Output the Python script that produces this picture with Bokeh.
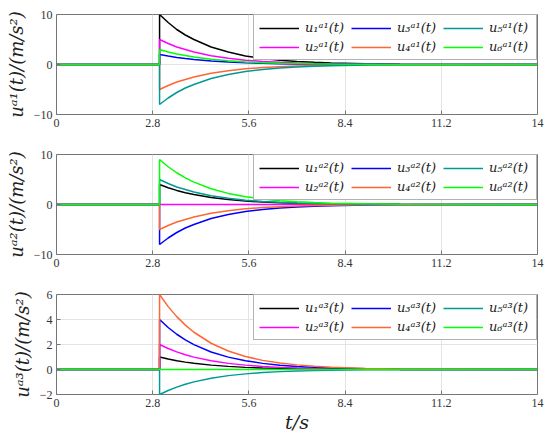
from bokeh.plotting import figure
from bokeh.models import Range1d, FixedTicker, Legend, LegendItem
from bokeh.layouts import column
from bokeh.embed import file_html
from bokeh.resources import INLINE

# sample times (s)
t = [0, 3, 3, 3.25, 3.5, 3.75, 4, 4.5, 5, 5.5, 6, 6.5, 7, 7.5, 8, 9, 10, 14]

# panel a1
a1_u1 = [0, 0, 10, 8.4, 7.0, 5.9, 5.0, 3.5, 2.5, 1.7, 1.2, 0.86, 0.61, 0.43, 0.30, 0.15, 0.07, 0]
a1_u2 = [0, 0, 5, 4.2, 3.5, 3.0, 2.5, 1.75, 1.24, 0.87, 0.61, 0.43, 0.30, 0.21, 0.15, 0.07, 0.04, 0]
a1_u3 = [0, 0, 2, 1.68, 1.41, 1.18, 0.99, 0.70, 0.49, 0.35, 0.24, 0.17, 0.12, 0.09, 0.06, 0.03, 0.01, 0]
a1_u4 = [0, 0, -5, -4.2, -3.5, -3.0, -2.5, -1.75, -1.24, -0.87, -0.61, -0.43, -0.30, -0.21, -0.15, -0.07, -0.04, 0]
a1_u5 = [0, 0, -8, -6.7, -5.6, -4.7, -4.0, -2.8, -2.0, -1.4, -0.98, -0.69, -0.49, -0.34, -0.24, -0.12, -0.06, 0]
a1_u6 = [0, 0, 3, 2.5, 2.1, 1.78, 1.49, 1.05, 0.74, 0.52, 0.37, 0.26, 0.18, 0.13, 0.09, 0.05, 0.02, 0]

# panel a2
a2_u1 = [0, 0, 4, 3.36, 2.82, 2.37, 1.99, 1.40, 0.99, 0.70, 0.49, 0.34, 0.24, 0.17, 0.12, 0.06, 0.03, 0]
a2_u2 = [0, 0, 0, 0, 0, 0, 0, 0, 0, 0, 0, 0, 0, 0, 0, 0, 0, 0]
a2_u3 = [0, 0, -8, -6.7, -5.6, -4.7, -4.0, -2.8, -2.0, -1.4, -0.98, -0.69, -0.49, -0.34, -0.24, -0.12, -0.06, 0]
a2_u4 = [0, 0, -5, -4.2, -3.5, -3.0, -2.5, -1.75, -1.24, -0.87, -0.61, -0.43, -0.30, -0.21, -0.15, -0.07, -0.04, 0]
a2_u5 = [0, 0, 5, 4.2, 3.5, 3.0, 2.5, 1.75, 1.24, 0.87, 0.61, 0.43, 0.30, 0.21, 0.15, 0.07, 0.04, 0]
a2_u6 = [0, 0, 9, 7.55, 6.35, 5.33, 4.47, 3.15, 2.22, 1.57, 1.10, 0.77, 0.55, 0.39, 0.27, 0.14, 0.06, 0]

# panel a3
a3_u1 = [0, 0, 1, 0.84, 0.70, 0.59, 0.50, 0.35, 0.25, 0.17, 0.12, 0.09, 0.06, 0.04, 0.03, 0.02, 0.01, 0]
a3_u2 = [0, 0, 2, 1.68, 1.41, 1.18, 0.99, 0.70, 0.49, 0.35, 0.24, 0.17, 0.12, 0.09, 0.06, 0.03, 0.01, 0]
a3_u3 = [0, 0, 4, 3.36, 2.82, 2.37, 1.99, 1.40, 0.99, 0.70, 0.49, 0.34, 0.24, 0.17, 0.12, 0.06, 0.03, 0]
a3_u4 = [0, 0, 6, 5.03, 4.23, 3.55, 2.98, 2.10, 1.48, 1.04, 0.73, 0.52, 0.37, 0.26, 0.18, 0.09, 0.04, 0]
a3_u5 = [0, 0, -2, -1.68, -1.41, -1.18, -0.99, -0.70, -0.49, -0.35, -0.24, -0.17, -0.12, -0.09, -0.06, -0.03, -0.01, 0]
a3_u6 = [0, 0, 0, 0, 0, 0, 0, 0, 0, 0, 0, 0, 0, 0, 0, 0, 0, 0]

x_ticks = [0, 2.8, 5.6, 8.4, 11.2, 14]
y_ticks_a1 = [-10, 0, 10]
y_ticks_a2 = [-10, 0, 10]
y_ticks_a3 = [-2, 0, 2, 4, 6]

colors = ["#000000", "#ff00ff", "#0000ff", "#ff6633", "#009999", "#00ff00"]
sub = ["₁", "₂", "₃", "₄", "₅", "₆"]
sup = {"a1": "ᵃ¹", "a2": "ᵃ²", "a3": "ᵃ³"}

SERIF = "DejaVu Serif"
TICKF = "Liberation Serif"
FRAME = "#767676"


def make_panel(key, series, yr, yticks, height, border_bottom, show_xlabel):
    p = figure(width=548, height=height, x_range=Range1d(0, 14), y_range=Range1d(*yr),
               output_backend="svg", toolbar_location=None,
               min_border_left=56, min_border_right=11, min_border_top=14,
               min_border_bottom=border_bottom)
    p.outline_line_color = FRAME
    p.outline_line_width = 1
    p.background_fill_color = "white"
    p.border_fill_color = "white"

    p.xaxis.ticker = FixedTicker(ticks=x_ticks)
    p.yaxis.ticker = FixedTicker(ticks=yticks)
    p.yaxis.major_label_overrides = {v: ("−" + str(abs(v))) for v in yticks if v < 0}
    for ax in (p.xaxis, p.yaxis):
        ax.axis_line_color = None
        ax.major_tick_in = 4
        ax.major_tick_out = 0
        ax.major_tick_line_color = FRAME
        ax.minor_tick_line_color = None
        ax.major_label_text_font = TICKF
        ax.major_label_text_font_size = "12px"
        ax.major_label_text_color = "#333333"
    p.xaxis.major_label_standoff = 4
    p.yaxis.major_label_standoff = 4
    p.xgrid.grid_line_color = "#e3e3e3"
    p.ygrid.grid_line_color = "#e3e3e3"

    p.yaxis.axis_label = "u" + sup[key] + "(t)/(m/s²)"
    p.yaxis.axis_label_text_font = SERIF
    p.yaxis.axis_label_text_font_style = "italic"
    p.yaxis.axis_label_text_font_size = "18px"
    p.yaxis.axis_label_standoff = 4
    p.yaxis.axis_label_text_color = "#222222"

    if show_xlabel:
        p.xaxis.axis_label = "t/s"
        p.xaxis.axis_label_text_font = SERIF
        p.xaxis.axis_label_text_font_style = "italic"
        p.xaxis.axis_label_text_font_size = "19px"
        p.xaxis.axis_label_standoff = 1
        p.xaxis.axis_label_text_color = "#222222"

    items = []
    for i, ys in enumerate(series):
        r = p.line(t, ys, line_color=colors[i], line_width=1.5)
        items.append(LegendItem(label="u" + sub[i] + sup[key] + "(t)", renderers=[r]))

    leg = Legend(items=items, location="top_right", orientation="vertical", nrows=2,
                 margin=0, padding=5, spacing=4,
                 glyph_width=40, glyph_height=14, label_height=14,
                 label_standoff=6, label_width=42,
                 label_text_font=SERIF, label_text_font_style="italic",
                 label_text_font_size="13px", label_text_color="#222222",
                 border_line_color="#666666", border_line_width=1,
                 background_fill_color="white", background_fill_alpha=1)
    p.add_layout(leg)
    return p


p1 = make_panel("a1", [a1_u1, a1_u2, a1_u3, a1_u4, a1_u5, a1_u6], (-10, 10), y_ticks_a1, 140, 26, False)
p2 = make_panel("a2", [a2_u1, a2_u2, a2_u3, a2_u4, a2_u5, a2_u6], (-10, 10), y_ticks_a2, 140, 26, False)
p3 = make_panel("a3", [a3_u1, a3_u2, a3_u3, a3_u4, a3_u5, a3_u6], (-2, 6), y_ticks_a3, 157, 43, True)

layout = column(p1, p2, p3, spacing=0)
open("out.html", "w").write(file_html(layout, INLINE))
